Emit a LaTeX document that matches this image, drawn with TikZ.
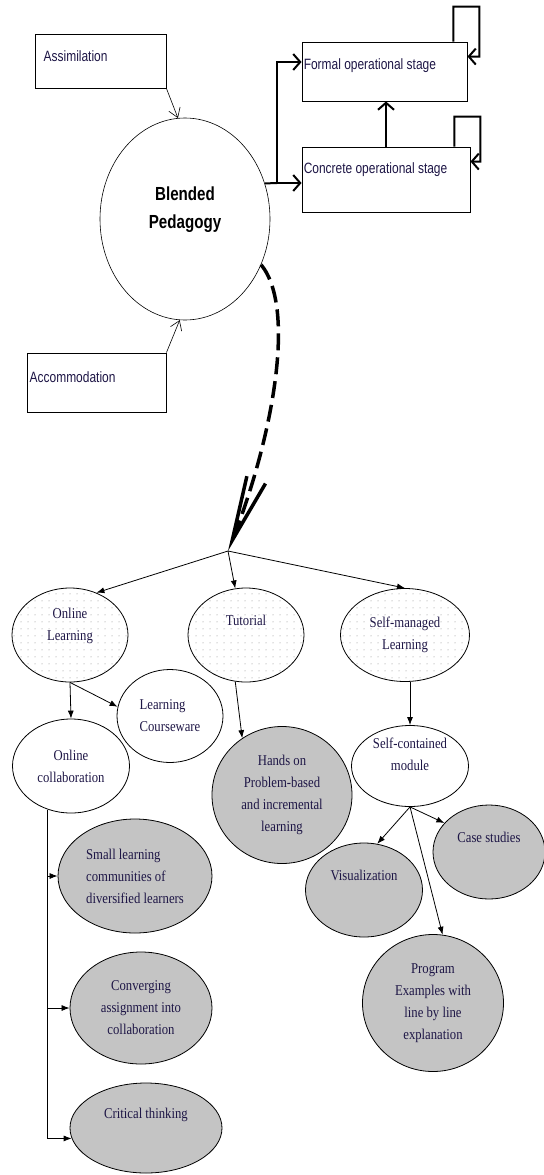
\documentclass[tikz,border=0pt]{standalone}
\usepackage{fontspec}
\setmainfont[FakeStretch=0.85]{Liberation Serif}
\newfontfamily\arialfont[FakeStretch=0.8]{Liberation Sans}
\usepackage{tikz}
\usetikzlibrary{arrows.meta}
\usetikzlibrary{patterns.meta}
\usetikzlibrary{shapes.geometric}
\usepackage{xcolor}
\definecolor{inkblue}{RGB}{30,22,70}
\definecolor{bubblegray}{RGB}{196,196,196}

\begin{document}
\begin{tikzpicture}[x=1bp, y=-1bp,
every node/.style = {inner sep=0pt, text=inkblue},
  stagebox/.style = {draw, rectangle, line width=0.9bp},
  boxlabel/.style = {anchor=west, font=\arialfont\fontsize{15}{17}\selectfont},
  bubble/.style = {draw, ellipse, line width=0.8bp, align=center, font=\fontsize{15}{22}\selectfont},
  dotbubble/.style = {bubble, pattern={Dots[distance=7bp, radius=0.5bp]}, pattern color=gray},
  graybubble/.style = {bubble, fill=bubblegray},
  thinarrow/.style = {-{Straight Barb[length=9bp, width=12bp]}, line width=0.6bp},
  thickarrow/.style = {-{Straight Barb[length=7bp, width=16bp]}, line width=2bp},
  treearrow/.style = {-{Latex[length=8bp, width=6bp]}, line width=0.8bp}
]
\useasboundingbox (0,0) rectangle (544,1175);

\node (blend) [draw, ellipse, line width=0.6bp, minimum width=170bp, minimum height=202bp, align=center, text=black, font=\arialfont\bfseries\fontsize{19}{28}\selectfont] at (185,219) {Blended\\Pedagogy\\[-6bp]\mbox{}};
\node (assim) [stagebox, minimum width=131bp, minimum height=54bp, label={[boxlabel, xshift=9bp, yshift=5bp]west:Assimilation}] at (100.5,61) {};
\node (accom) [stagebox, minimum width=139bp, minimum height=59bp, label={[boxlabel, xshift=3bp, yshift=5.5bp]west:Accommodation}] at (96.5,382.5) {};
\node (formal) [stagebox, minimum width=165bp, minimum height=59bp, label={[boxlabel, xshift=2bp, yshift=5.5bp]west:Formal operational stage}] at (384.5,71.5) {};
\node (concrete) [stagebox, minimum width=168bp, minimum height=65bp, label={[boxlabel, xshift=2bp, yshift=9.5bp]west:Concrete operational stage}] at (386,179.5) {};
\coordinate (fork) at (277,183);
\coordinate (junc) at (228,551);

\node (ol) [dotbubble, minimum width=116bp, minimum height=94bp] at (70,635) {Online\\Learning\\[0bp]\mbox{}};
\node (tut) [dotbubble, minimum width=116bp, minimum height=94bp] at (246,635) {Tutorial\\[8bp]\mbox{}};
\node (sm) [dotbubble, minimum width=129bp, minimum height=93bp] at (405,635) {Self-managed\\Learning};
\node (lc) [bubble, align=left, minimum width=106bp, minimum height=93bp] at (170,716) {Learning\\Courseware};
\node (oc) [bubble, fill=white, minimum width=117bp, minimum height=94bp] at (71,766) {Online\\collaboration};
\node (hands) [graybubble, minimum width=140bp, minimum height=137bp] at (282,795) {Hands on\\Problem-based\\and incremental\\learning};
\node (scm) [bubble, fill=white, minimum width=117bp, minimum height=81bp] at (410,766) {Self-contained\\module\\[2bp]\mbox{}};
\node (case) [graybubble, minimum width=112bp, minimum height=94bp] at (489,852) {Case studies\\[8bp]\mbox{}};
\node (vis) [graybubble, minimum width=117bp, minimum height=94bp] at (364,890) {Visualization\\[8bp]\mbox{}};
\node (prog) [graybubble, minimum width=141bp, minimum height=137bp] at (433,1003) {Program\\Examples with\\line by line\\explanation};
\node (small) [graybubble, align=left, minimum width=154bp, minimum height=114bp] at (135,876) {Small learning\\communities of\\diversified learners};
\node (conv) [graybubble, minimum width=142bp, minimum height=112bp] at (141,1008) {Converging\\assignment into\\collaboration};
\node (crit) [graybubble, minimum width=152bp, minimum height=90bp] at (146,1128) {Critical thinking\\[8bp]\mbox{}};

\draw[thinarrow] (assim.south east) -- (blend.94);
\draw[thinarrow] (accom.north east) -- (blend.-93);
\draw[line width=2bp] (blend.24) -- (fork);
\draw[thickarrow] (fork) -- (fork -| concrete.west);
\draw[thickarrow] (fork) |- ([yshift=9.5bp]formal.west);
\draw[thickarrow] (concrete.north) -- (concrete.north |- formal.south);
\draw[thickarrow] ([xshift=-14bp]formal.north east) -- ++(0,-35) -- ++(26,0) -- ++(0,50) -- ([yshift=-15bp]formal.north east);
\draw[thickarrow] ([xshift=-16bp]concrete.north east) -- ++(0,-30) -- ++(26,0) -- ++(0,45) -- ([yshift=-15bp]concrete.north east);
\draw[line width=3.5bp, dash pattern=on 17bp off 7bp, -{Straight Barb[length=65bp, width=20bp]}] (blend.-31) .. controls (298,310) and (270,445) .. (junc);

\draw[treearrow] (junc) -- (ol.58);
\draw[treearrow] (junc) -- (tut.103);
\draw[treearrow] (junc) -- (sm.north);
\draw[treearrow] (ol.south) -- (oc.north);
\draw[treearrow] (ol.south) -- (lc.170);
\draw[treearrow] (tut.257) -- (hands.125);
\draw[treearrow] (scm.north |- sm.south) -- (scm.north);
\draw[treearrow] (scm.south) -- (vis.74);
\draw[treearrow] (scm.south) -- (case.147);
\draw[treearrow] (scm.south) -- (prog.82);
\draw[treearrow] (oc.242) |- (crit.188);
\draw[treearrow] (oc.242 |- small.west) -- (small.west);
\draw[treearrow] (oc.242 |- conv.west) -- (conv.west);
\end{tikzpicture}
\end{document}
